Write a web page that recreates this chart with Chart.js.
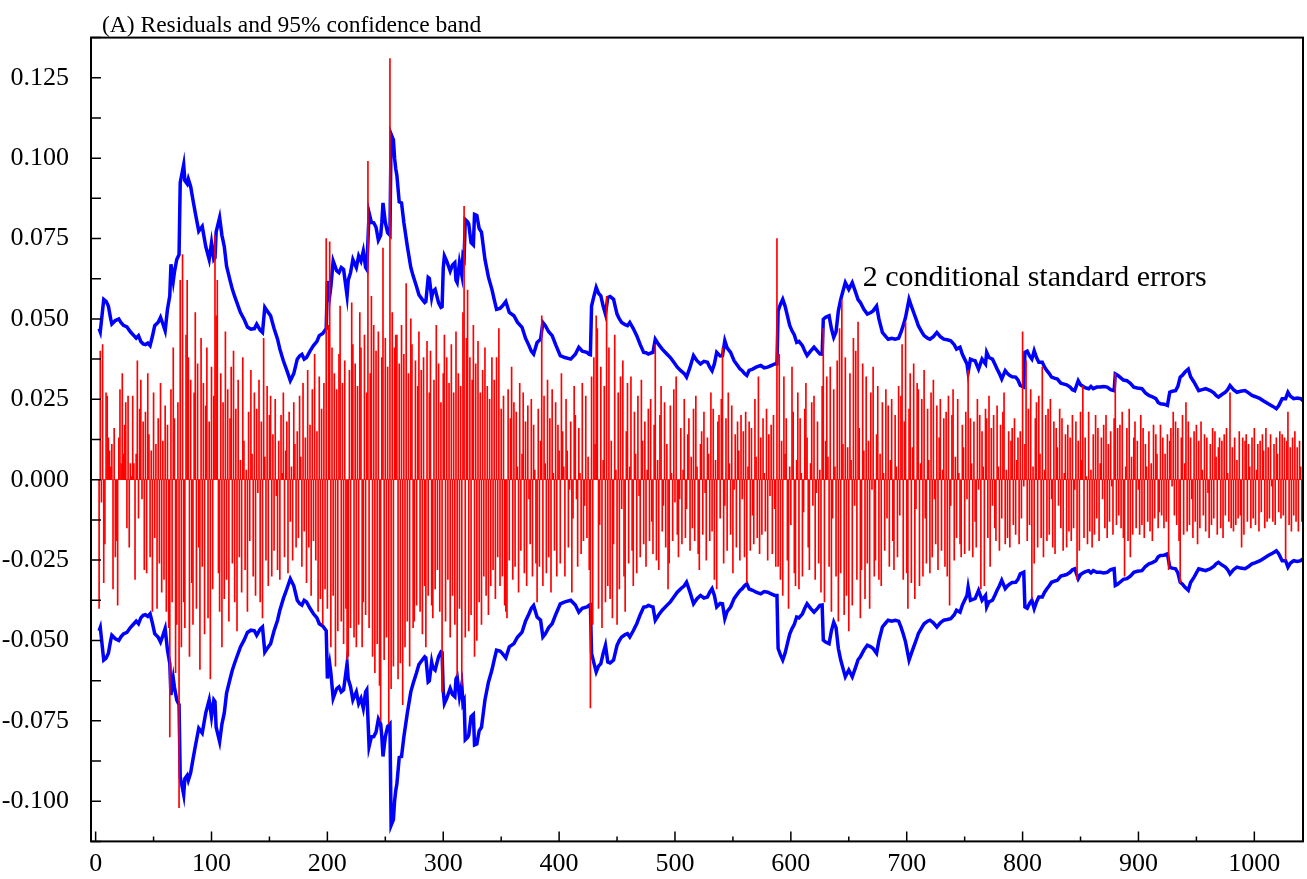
<!DOCTYPE html>
<html>
<head>
<meta charset="utf-8">
<title>Residuals and 95% confidence band</title>
<script src="https://cdn.jsdelivr.net/npm/chart.js@4.4.1/dist/chart.umd.min.js"></script>
<style>
  html, body { margin: 0; padding: 0; background: #fff; }
  #wrap { width: 1307px; height: 879px; }
</style>
</head>
<body>
<div id="wrap"><canvas id="resid-chart" width="1307" height="879"></canvas></div>
<script>
// observation number of the first residual
const firstObs = 3;

// model residuals, one per observation
const residuals = [
  -.040, .040, -.007, .042, -.032, -.020, .027, .026, .013, .009,
  .004, .011, -.034, .016, -.024, -.019, -.039, .013, .028, .005,
  .033, .008, .017, .024, -.015, .026, -.021, .005, .001, .026,
  .005, -.031, .008, .037, -.012, .022, .031, -.006, .018, -.028,
  .021, -.029, .033, .014, -.024, .009, -.041, .027, -.018, .011,
  -.040, .019, -.026, .030, -.035, .012, -.031, .023, -.041, .017,
  -.046, -.080, .028, -.038, .041, .019, -.060, -.045, .024, -.102,
  .062, -.052, .070, -.038, -.046, .045, .062, .038, -.055, .031,
  -.032, -.045, .027, .052, -.040, .036, -.021, -.059, .044, -.027,
  .030, -.048, .023, .041, -.043, .018, -.062, .035, -.034, .026,
  .076, .051, .062, -.029, -.041, .033, -.052, .024, -.037, .046,
  -.031, .028, -.044, .019, .035, -.026, .040, -.038, .022, -.047,
  .031, -.024, .006, -.035, .038, .012, -.028, .003, -.041, .021,
  -.019, .034, .008, -.030, .027, -.036, .022, -.004, .031, -.038,
  .018, -.043, .044, .007, -.025, .029, -.033, .020, .026, -.030,
  .014, -.022, .025, -.005, -.028, .012, -.031, .020, .002, .027,
  -.024, .009, .018, -.029, .021, -.013, .004, -.025, .024, .011,
  -.021, .015, -.018, .026, .007, -.027, .030, -.016, .013, -.032,
  .034, -.021, .017, -.036, .028, -.019, .039, -.025, .015, -.041,
  .032, -.037, .022, -.045, .030, -.034, .075, -.040, .048, .074,
  -.052, .041, -.036, .033, -.058, .028, -.047, .039, .054, -.044,
  .030, -.051, .037, -.040, -.056, -.055, .034, -.046, .055, .042,
  -.049, .036, -.052, .029, -.045, .052, .041, -.052, -.038, .045,
  -.042, .027, .099, -.046, .033, .057, -.055, .048, -.060, .040,
  -.051, .046, -.064, -.075, .038, .072, -.056, .044, -.049, .035,
  -.076, .131, -.065, .052, -.058, .041, .045, .045, -.062, .036,
  -.057, .048, -.070, .039, -.052, .061, -.044, .033, -.058, .050,
  .042, -.046, -.044, .037, -.039, .029, .046, -.041, .034, -.048,
  .038, -.033, -.052, .043, -.036, .027, .040, -.039, -.043, .031,
  -.034, .048, -.028, .036, -.041, .024, -.066, .033, .045, -.044,
  .038, -.031, .030, -.049, .042, -.036, .027, -.045, .046, -.061,
  .033, -.040, .029, -.064, .052, .085, -.049, .044, .059, -.047,
  .038, -.042, .031, .048, -.055, .036, -.050, .043, -.038, .027,
  -.045, .034, -.030, .041, -.036, .029, -.042, .025, -.033, .038,
  -.028, .031, -.037, .038, -.024, .047, -.033, .022, -.030, .026,
  -.039, -.041, -.043, .028, -.025, .019, .035, -.031, .024, -.027,
  .021, .004, -.035, .030, -.022, .008, .027, -.029, .018, -.033,
  .023, -.006, -.020, .025, -.030, .017, .003, -.026, -.038, .022,
  -.027, .012, .051, -.033, .026, .005, -.029, .031, -.024, .019,
  -.035, .028, .002, -.022, .024, -.030, .017, .009, -.026, .033,
  .015, .004, -.030, .025, .009, -.021, -.003, .018, -.035, -.012,
  .029, .020, -.006, -.027, .016, .002, -.023, .030, -.019, -.008,
  .026, -.018, .007, -.028, -.071, .032, -.045, .038, .011, .051,
  .047, -.040, -.014, .035, -.046, .006, .029, -.038, .057, -.033,
  .041, -.037, .012, -.043, -.020, .045, .003, -.045, .027, -.034,
  .032, -.009, .037, -.030, -.041, .015, .030, -.026, .004, .032,
  -.022, -.033, .021, .008, -.029, .026, -.005, -.024, .031, .012,
  -.020, .018, -.027, .003, .022, -.019, .025, -.013, -.023, .017,
  .042, -.025, .006, -.028, .020, .029, -.016, -.008, .024, -.021,
  .011, -.034, -.026, .023, .002, -.019, .028, -.007, .032, -.017,
  -.024, -.006, .016, -.020, .003, .025, -.018, -.009, .014, .019,
  -.022, .007, -.015, .022, -.019, .026, .004, -.023, -.028, .011,
  .015, -.017, .021, -.004, -.025, .013, .008, -.019, .027, -.016,
  .022, -.031, .006, -.034, .018, .020, -.012, .025, .041, -.026,
  -.008, .019, -.022, .027, .005, -.017, .023, -.029, -.003, .014,
  -.021, .018, .009, -.025, .020, -.006, .015, -.024, .021, -.032,
  .004, .018, -.022, .016, -.011, -.020, .025, .007, -.018, .032,
  -.023, .013, -.017, .019, .002, -.016, .022, -.025, .014, -.005,
  .017, -.023, .020, -.009, -.027, .075, -.027, .039, -.031, .012,
  -.036, .032, .008, .019, -.025, -.040, .004, -.014, .035, .021,
  -.029, -.033, .006, .027, -.034, .019, .002, -.030, -.010, .022,
  .030, .013, -.021, -.028, .005, .024, -.008, .026, -.031, -.004,
  .018, -.026, .003, -.035, .029, .047, -.038, .012, .032, .007,
  -.027, .035, -.041, -.012, .028, .004, -.030, .037, -.044, .047,
  -.029, .056, .011, -.042, .038, -.036, .010, -.047, .033, .006,
  -.039, .044, -.008, .040, -.031, .049, .016, -.043, -.028, .036,
  .009, -.037, .032, -.026, .012, -.040, .027, -.003, .035, -.030,
  -.025, .014, .029, -.031, .008, -.033, .024, .002, -.022, .028,
  -.012, .023, -.027, .006, .025, -.019, -.028, .020, .004, -.024,
  .029, -.011, .026, .042, -.031, .018, .049, -.029, -.040, .022,
  .033, -.032, .010, .036, -.037, -.009, .030, .028, -.033, .005,
  .025, -.030, .034, -.012, -.026, .022, .006, -.029, .027, -.024,
  .031, -.006, -.020, .023, -.028, .013, .025, -.022, .003, .019,
  -.027, .021, -.030, .026, -.039, -.008, .020, .028, -.025, .007,
  -.018, .025, .002, -.020, -.024, .017, .010, -.023, .021, -.006,
  .034, -.022, .019, .005, -.024, .018, -.013, -.021, .025, -.003,
  .020, -.034, .015, .004, -.033, .022, .019, -.018, .026, -.027,
  .016, -.008, .020, -.015, -.019, .023, .004, -.022, .017, -.012,
  .021, .027, -.020, .003, -.018, .015, -.021, .012, .016, -.014,
  .019, -.017, .006, .013, -.020, .015, -.012, .046, -.002, .011,
  .037, -.019, .022, -.014, .028, -.037, .004, -.026, .019, .024,
  -.021, .026, .008, -.018, .035, -.024, .003, .020, -.019, .022,
  -.017, .025, -.006, -.021, .018, -.023, .016, .010, -.008, .022,
  -.015, .019, -.022, .002, .014, -.021, .017, -.016, .013, -.019,
  .020, -.015, -.003, .018, -.031, .012, -.022, .021, .006, .029,
  -.018, .013, .001, -.020, .021, -.016, .003, -.021, .014, -.017,
  .020, -.012, .016, -.019, .005, .013, -.006, .017, -.015, .020,
  -.018, .011, -.013, .015, -.002, -.017, .019, .033, -.014, .016,
  -.011, .017, -.015, .021, -.018, -.030, .004, .016, -.019, .022,
  -.024, .007, -.017, .013, .018, -.015, .012, -.003, -.017, .020,
  -.014, .016, -.018, .011, .004, -.013, .015, -.016, .005, -.019,
  .017, -.012, .014, .008, -.015, -.010, .017, -.011, .013, -.015,
  .008, -.013, .014, -.028, .012, .016, -.002, .021, -.011, .018,
  -.014, .016, -.019, -.032, .013, .020, -.017, .005, .024, -.016,
  .018, -.014, .013, -.006, -.018, .015, -.013, .017, -.020, .012,
  -.015, .018, .003, -.011, .014, -.016, .013, -.004, -.018, .011,
  -.014, .016, -.012, .015, .007, -.017, .010, .013, -.015, .012,
  -.018, .014, -.011, .016, .002, -.013, .027, -.015, .010, -.016,
  .013, -.014, .006, -.012, .015, -.011, -.021, .013, -.017, .012,
  .014, -.013, .011, .004, -.015, .013, -.012, .016, -.014, .003,
  .011, -.016, .012, -.010, .014, .009, -.015, .016, -.013, .010,
  -.012, .014, -.002, -.013, .011, -.014, .013, .008, -.010, .015,
  -.012, .014, -.011, .013, -.025, .012, .021, -.014, .010, -.016,
  .013, -.011, .015, -.013, .010, -.016, .012, .004, -.013, .011
];

// two conditional standard errors, read at these observations
const bandObs = [
  3, 4, 7, 9, 11, 13, 14, 17, 20, 22, 24, 27, 30, 33, 35, 37, 39, 41, 43, 45,
  47, 49, 51, 54, 56, 58, 60, 62, 64, 65, 67, 68, 70, 72, 73, 76, 77, 79, 80, 82,
  84, 86, 89, 92, 95, 98, 100, 102, 103, 104, 107, 109, 111, 113, 116, 118, 120, 122, 125, 128,
  131, 134, 137, 139, 142, 144, 146, 148, 151, 154, 157, 159, 162, 165, 168, 171, 174, 176, 178, 180,
  182, 185, 188, 191, 193, 196, 199, 200, 202, 203, 205, 208, 210, 212, 214, 217, 218, 220, 222, 225,
  227, 229, 231, 233, 234, 236, 238, 240, 242, 244, 246, 247, 248, 250, 252, 254, 255, 257, 258, 259,
  260, 262, 264, 266, 269, 272, 274, 277, 279, 282, 284, 285, 287, 288, 290, 291, 293, 296, 298, 299,
  300, 301, 303, 306, 308, 310, 311, 312, 314, 316, 317, 318, 319, 321, 322, 324, 326, 327, 329, 331,
  333, 336, 339, 342, 344, 346, 349, 351, 354, 357, 361, 364, 368, 371, 374, 376, 378, 381, 384, 386,
  388, 391, 394, 397, 401, 405, 410, 414, 417, 420, 424, 426, 427, 428, 430, 432, 434, 436, 438, 440,
  442, 444, 447, 449, 450, 452, 454, 457, 459, 461, 464, 467, 470, 473, 475, 477, 480, 481, 483, 486,
  489, 493, 496, 499, 502, 505, 508, 510, 513, 516, 519, 522, 525, 528, 530, 532, 534, 536, 539, 541,
  543, 545, 548, 551, 554, 556, 558, 560, 562, 564, 567, 570, 574, 577, 580, 583, 586, 588, 589, 591,
  593, 595, 597, 599, 601, 603, 605, 607, 610, 612, 614, 617, 620, 623, 625, 627, 628, 630, 633, 635,
  637, 639, 641, 643, 645, 647, 650, 653, 656, 658, 660, 663, 666, 669, 671, 674, 676, 679, 682, 684,
  687, 690, 693, 695, 697, 699, 702, 704, 706, 709, 710, 713, 715, 718, 720, 723, 726, 729, 732, 735,
  738, 741, 743, 746, 748, 750, 752, 753, 755, 757, 759, 762, 765, 768, 769, 771, 774, 776, 778, 780,
  782, 785, 787, 789, 791, 794, 796, 798, 801, 802, 804, 806, 808, 810, 812, 814, 817, 819, 821, 823,
  825, 828, 830, 833, 835, 838, 841, 843, 845, 848, 850, 853, 855, 857, 859, 861, 864, 867, 870, 873,
  876, 879, 880, 882, 884, 887, 890, 893, 896, 899, 903, 906, 909, 912, 915, 917, 919, 922, 925, 927,
  929, 932, 934, 936, 938, 940, 943, 945, 948, 950, 952, 955, 958, 960, 962, 965, 967, 969, 972, 975,
  977, 979, 982, 985, 988, 992, 995, 998, 1001, 1005, 1008, 1012, 1016, 1019, 1021, 1024, 1027, 1029, 1031, 1034,
  1037, 1040, 1042
];
const bandTwoSE = [
  .047, .046, .0561, .0555, .054, .050, .0484, .0495, .050, .0488, .048, .0475, .046, .0448, .044, .0448, .043, .0422, .042, .0425,
  .0417, .0446, .0479, .049, .0505, .0485, .0463, .053, .0572, .067, .0618, .0645, .0685, .070, .0924, .098, .093, .092, .0935, .0912,
  .087, .083, .0773, .0788, .0726, .0685, .0737, .0685, .069, .077, .0815, .076, .0726, .0664, .062, .0592, .057, .055, .052, .050,
  .0475, .0468, .047, .0484, .0465, .0458, .0536, .0525, .051, .047, .0437, .0406, .037, .034, .0308, .033, .0375, .0385, .039, .0375,
  .038, .040, .0417, .043, .0448, .0455, .047, .0618, .0572, .060, .068, .065, .0644, .066, .0654, .0572, .062, .0644, .0685, .066,
  .0696, .068, .0711, .066, .0654, .083, .080, .0799, .0785, .0745, .076, .080, .0861, .080, .0768, .076, .1075, .1057, .100, .0967,
  .0946, .0864, .0861, .080, .0726, .066, .0634, .060, .0575, .056, .0551, .0554, .0629, .0626, .0567, .0585, .0592, .055, .0536, .0538,
  .0657, .0696, .068, .0649, .0668, .0675, .062, .0613, .0675, .0637, .0696, .0688, .0809, .0802, .0795, .0737, .073, .0825, .0822, .0781,
  .077, .0685, .063, .0592, .056, .053, .0533, .054, .0554, .052, .051, .049, .0474, .044, .0417, .040, .0391, .0427, .0437, .0489,
  .048, .046, .0448, .042, .0386, .038, .0375, .039, .0412, .040, .0396, .039, .0389, .054, .057, .0598, .058, .0572, .054, .0515,
  .0567, .057, .0561, .053, .0515, .050, .0489, .0482, .0479, .0489, .047, .0448, .042, .0396, .0395, .0391, .0395, .0396, .0437, .042,
  .0406, .0391, .038, .0365, .035, .0339, .033, .0319, .035, .0386, .037, .036, .0368, .0365, .035, .0339, .036, .0396, .0385, .0386,
  .0432, .041, .0396, .037, .0355, .0345, .0339, .033, .0324, .034, .0344, .035, .0355, .0348, .035, .0355, .036, .036, .0525, .0545,
  .0561, .054, .051, .048, .0463, .045, .0427, .043, .0417, .040, .0386, .040, .0412, .040, .0391, .039, .0499, .0505, .051, .047,
  .0443, .046, .0525, .056, .0587, .0613, .0592, .0613, .0582, .056, .0551, .053, .0515, .052, .0525, .054, .050, .0458, .0445, .0437,
  .044, .0437, .044, .0458, .048, .0505, .0561, .054, .052, .049, .0479, .046, .0448, .044, .0437, .0445, .0458, .0445, .0437, .0435,
  .0432, .042, .0406, .0412, .039, .0375, .036, .0334, .0375, .0372, .037, .0344, .0375, .036, .0396, .038, .0375, .036, .0344, .033,
  .0313, .0339, .033, .0324, .032, .0319, .031, .0293, .0288, .0396, .040, .0385, .0375, .0401, .038, .0365, .0365, .035, .0339, .033,
  .0319, .0315, .0313, .030, .0298, .0295, .0288, .028, .0277, .0308, .0295, .0288, .0285, .0283, .029, .0283, .0288, .0288, .029, .0288,
  .028, .0277, .0329, .0325, .0319, .031, .0308, .030, .0288, .0285, .0283, .027, .0262, .0258, .0252, .024, .0236, .0235, .0231, .0272,
  .0275, .0277, .029, .0319, .0325, .0334, .0344, .032, .0303, .029, .0277, .028, .0283, .028, .0277, .027, .0262, .0257, .0265, .0272,
  .028, .0293, .028, .0272, .0275, .0277, .027, .0262, .0258, .0252, .0245, .0236, .0228, .0221, .023, .0252, .0252, .0272, .026, .0252,
  .0254, .0252, .0246
];

// axis ticks: every tick gets a mark, only the round ones get a label
const xTicks = [0, 50, 100, 150, 200, 250, 300, 350, 400, 450, 500, 550, 600, 650, 700, 750, 800, 850, 900, 950, 1000];
const yTicks = [-0.1125, -0.1, -0.0875, -0.075, -0.0625, -0.05, -0.0375, -0.025, -0.0125, 0,
  0.0125, 0.025, 0.0375, 0.05, 0.0625, 0.075, 0.0875, 0.1, 0.1125, 0.125, 0.1375];

const titleText = '(A) Residuals and 95% confidence band';
const bandLabel = '2 conditional standard errors';

const serif = '"Liberation Serif", "Times New Roman", serif';

// box around the plot, inward tick marks, title and band label
const framePlugin = {
  id: 'frame',
  afterDraw(chart) {
    const { ctx, chartArea: a, scales: { x, y } } = chart;
    ctx.save();
    ctx.strokeStyle = '#000';
    ctx.lineWidth = 2;
    ctx.strokeRect(a.left, a.top, a.right - a.left, a.bottom - a.top);

    ctx.lineWidth = 1.5;
    ctx.beginPath();
    y.ticks.forEach(t => {
      const py = y.getPixelForValue(t.value);
      ctx.moveTo(a.left, py);
      ctx.lineTo(a.left + 10, py);
    });
    x.ticks.forEach(t => {
      const px = x.getPixelForValue(t.value);
      const len = t.value % 100 === 0 ? 10 : 5;
      ctx.moveTo(px, a.bottom);
      ctx.lineTo(px, a.bottom - len);
    });
    ctx.stroke();

    ctx.fillStyle = '#000';
    ctx.textBaseline = 'alphabetic';
    ctx.textAlign = 'left';
    ctx.font = '23.5px ' + serif;
    ctx.fillText(titleText, a.left + 11, a.top - 5.5);
    ctx.font = '30px ' + serif;
    ctx.fillText(bandLabel, x.getPixelForValue(662), y.getPixelForValue(0.0602));
    ctx.restore();
  }
};

const resData = residuals.map((v, i) => ({ x: firstObs + i, y: v }));
const upperData = bandObs.map((t, i) => ({ x: t, y: bandTwoSE[i] }));
const lowerData = bandObs.map((t, i) => ({ x: t, y: -bandTwoSE[i] }));

new Chart(document.getElementById('resid-chart').getContext('2d'), {
  type: 'bar',
  data: {
    datasets: [
      {
        type: 'bar',
        label: 'Residuals',
        data: resData,
        backgroundColor: '#ff0000',
        borderWidth: 0,
        barThickness: 1,
        grouped: false,
        order: 0
      },
      {
        type: 'line',
        label: 'Upper band',
        data: upperData,
        borderColor: '#0000ff',
        borderWidth: 3.5,
        pointRadius: 0,
        tension: 0,
        fill: false,
        order: 1
      },
      {
        type: 'line',
        label: 'Lower band',
        data: lowerData,
        borderColor: '#0000ff',
        borderWidth: 3.5,
        pointRadius: 0,
        tension: 0,
        fill: false,
        order: 1
      }
    ]
  },
  options: {
    responsive: false,
    animation: false,
    events: [],
    layout: { padding: { top: 37, right: 4, bottom: 0, left: 0 } },
    plugins: {
      legend: { display: false },
      tooltip: { enabled: false },
      title: { display: false }
    },
    scales: {
      x: {
        type: 'linear',
        min: -4,
        max: 1042,
        offset: false,
        grid: { display: false, drawTicks: false },
        border: { display: false },
        afterBuildTicks: s => { s.ticks = xTicks.map(v => ({ value: v })); },
        afterFit: s => { s.height = 35; },
        ticks: {
          autoSkip: false,
          maxRotation: 0,
          padding: 7,
          color: '#000',
          font: { family: serif, size: 26 },
          callback: v => (v % 100 === 0 ? String(v) : '')
        }
      },
      y: {
        type: 'linear',
        min: -0.1125,
        max: 0.1375,
        grid: { display: false, drawTicks: false },
        border: { display: false },
        afterBuildTicks: s => { s.ticks = yTicks.map(v => ({ value: v })); },
        afterFit: s => { s.width = 91; },
        ticks: {
          autoSkip: false,
          padding: 22,
          color: '#000',
          font: { family: serif, size: 26 },
          callback: v => (Math.abs(Math.round(v / 0.025) * 0.025 - v) < 1e-9 ? v.toFixed(3) : '')
        }
      }
    }
  },
  plugins: [framePlugin]
});
</script>
</body>
</html>
